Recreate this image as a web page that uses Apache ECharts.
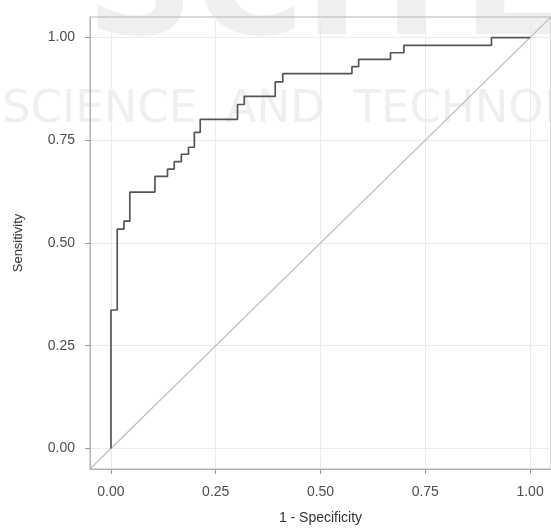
<!DOCTYPE html>
<html>
<head>
<meta charset="utf-8">
<title>ROC curve</title>
<script src="https://cdn.jsdelivr.net/npm/echarts@6/dist/echarts.min.js"></script>
<style>
  html, body { margin: 0; padding: 0; background: #fff; }
  #chart_roc { width: 551px; height: 530px; }
</style>
</head>
<body>
<div id="chart_roc"></div>
<script>
// ROC curve corner points (1 - specificity, sensitivity)
const fpr = [0, 0, 0.015, 0.015, 0.031, 0.031, 0.045, 0.045, 0.105, 0.105,
  0.135, 0.135, 0.151, 0.151, 0.168, 0.168, 0.185, 0.185, 0.199, 0.199,
  0.213, 0.213, 0.302, 0.302, 0.318, 0.318, 0.392, 0.392, 0.41, 0.41,
  0.575, 0.575, 0.591, 0.591, 0.667, 0.667, 0.699, 0.699, 0.908, 0.908, 1.0];
const tpr = [0, 0.337, 0.337, 0.534, 0.534, 0.553, 0.553, 0.624, 0.624, 0.662,
  0.662, 0.680, 0.680, 0.698, 0.698, 0.716, 0.716, 0.733, 0.733, 0.769,
  0.769, 0.801, 0.801, 0.837, 0.837, 0.857, 0.857, 0.892, 0.892, 0.912,
  0.912, 0.929, 0.929, 0.947, 0.947, 0.963, 0.963, 0.981, 0.981, 1.0, 1.0];
// chance line, corner to corner of the panel
const diagX = [-0.05, 1.05];
const diagY = [-0.05, 1.05];
const tickValues = [0, 0.25, 0.5, 0.75, 1];

let myChart = echarts.init(document.getElementById('chart_roc'));

const axisText = {
  color: '#4d4d4d',
  fontFamily: 'Liberation Sans, Arial, sans-serif',
  fontSize: 14
};

const option = {
  animation: false,
  backgroundColor: '#fff',
  // faint publisher watermark behind the panel
  graphic: [
    {
      type: 'text', left: 86, top: -80, z: -10, silent: true,
      style: { text: 'SCITE', fill: '#efefef', font: 'bold 150px DejaVu Sans, Arial' }
    },
    {
      type: 'text', left: 2, top: 88, z: -10, silent: true,
      style: { text: 'SCIENCE  AND  TECHNOLOGY', fill: '#efefef', font: '45px DejaVu Sans, Arial' }
    }
  ],
  grid: {
    left: 90,
    right: 0,
    top: 17,
    bottom: 59,
    show: true,
    borderColor: '#b3b3b3',
    borderWidth: 1,
    backgroundColor: 'transparent'
  },
  xAxis: {
    type: 'value',
    min: -0.05,
    max: 1.05,
    name: '1 - Specificity',
    nameLocation: 'middle',
    nameGap: 42,
    nameTextStyle: { color: '#333', fontFamily: axisText.fontFamily, fontSize: 14 },
    axisLine: { show: true, onZero: false, lineStyle: { color: '#b3b3b3' } },
    axisTick: { show: true, length: 5, customValues: tickValues, lineStyle: { color: '#999' } },
    axisLabel: Object.assign({
      customValues: tickValues,
      margin: 16,
      formatter: v => v.toFixed(2)
    }, axisText),
    splitLine: { show: true, lineStyle: { color: '#ebebeb', width: 1 } }
  },
  yAxis: {
    type: 'value',
    min: -0.05,
    max: 1.05,
    name: 'Sensitivity',
    nameLocation: 'middle',
    nameGap: 65,
    nameTextStyle: { color: '#333', fontFamily: axisText.fontFamily, fontSize: 13 },
    axisLine: { show: true, onZero: false, lineStyle: { color: '#b3b3b3' } },
    axisTick: { show: true, length: 5, customValues: tickValues, lineStyle: { color: '#999' } },
    axisLabel: Object.assign({
      customValues: tickValues,
      margin: 15,
      formatter: v => v.toFixed(2)
    }, axisText),
    splitLine: { show: true, lineStyle: { color: '#ebebeb', width: 1 } }
  },
  series: [
    {
      name: 'chance',
      type: 'line',
      data: diagX.map((x, i) => [x, diagY[i]]),
      symbol: 'none',
      lineStyle: { color: '#bdbdbd', width: 1.2 },
      z: 2
    },
    {
      name: 'ROC',
      type: 'line',
      data: fpr.map((x, i) => [x, tpr[i]]),
      symbol: 'none',
      lineStyle: { color: '#555', width: 1.7 },
      z: 3
    }
  ]
};

myChart.setOption(option, true);
</script>
</body>
</html>
